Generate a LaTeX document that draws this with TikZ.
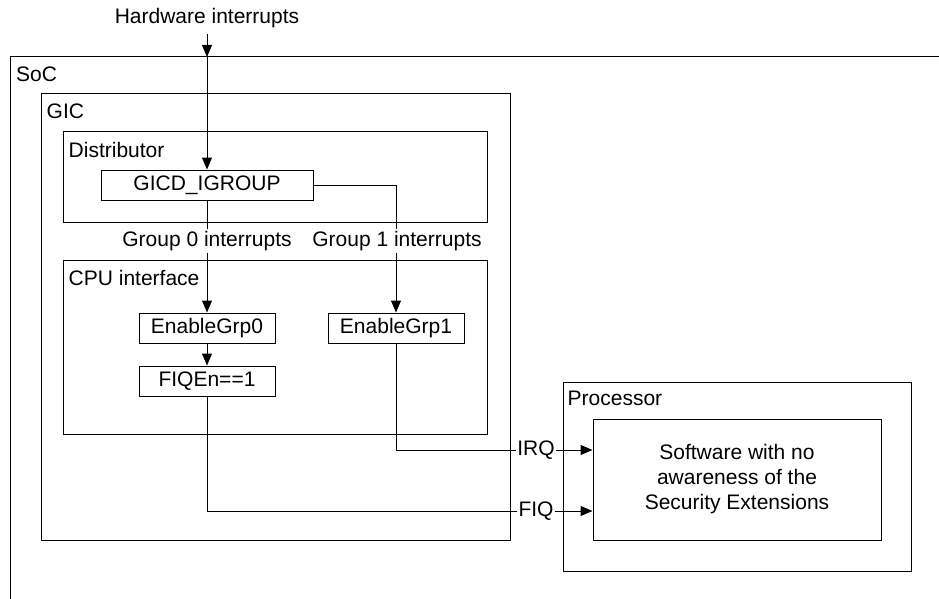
\documentclass[tikz,border=0pt]{standalone}
\usepackage{fontspec}
\setmainfont{Liberation Sans}
\usetikzlibrary{arrows.meta}
\begin{document}
\begin{tikzpicture}[x=1pt,y=-1pt,
  every node/.style={font=\fontsize{21}{25}\selectfont},
  line/.style={line width=1pt},
  tip/.style={line width=1pt,-{Triangle[length=12pt,width=10pt]}},
  box/.style={draw,line width=1pt,rectangle,inner sep=0pt,minimum height=30pt},
  container/.style={draw,line width=1pt,rectangle,inner sep=0pt},
  lbl/.style={anchor=west,inner sep=0pt},
  wlbl/.style={fill=white,inner sep=1pt}]
\useasboundingbox (0,0) rectangle (939,599);
% SoC (cropped)
\coordinate (socbl) at (10,599);
\coordinate (soctl) at (10,57);
\coordinate (soctr) at (939,57);
\draw[line] (socbl) -- (soctl) -- (soctr);
\node[lbl] (soclbl) at (16,74) {SoC};
% GIC
\node[container,minimum width=469pt,minimum height=446pt] (gic) at (275.5,317) {};
\node[lbl] (giclbl) at ([xshift=6pt,yshift=-18pt]gic.north west) {GIC};
% Distributor
\node[container,minimum width=424pt,minimum height=90pt] (dist) at (275,177) {};
\node[lbl] (distlbl) at ([xshift=6pt,yshift=-18pt]dist.north west) {Distributor};
% CPU interface
\node[container,minimum width=424pt,minimum height=174pt] (cpu) at (275,347) {};
\node[lbl] (cpulbl) at ([xshift=6pt,yshift=-18pt]cpu.north west) {CPU interface};
% Processor
\node[container,minimum width=348pt,minimum height=189pt] (proc) at (737,476.5) {};
\node[lbl] (proclbl) at ([xshift=5pt,yshift=-17pt]proc.north west) {Processor};
% Software
\node[container,minimum width=288pt,minimum height=121pt,align=center] (sw) at (737,479.5) {Software with no\\awareness of the\\Security Extensions};
% inner boxes
\node[box,minimum width=212pt] (gicd) at (207,185) {GICD\_IGROUP};
\node[box,minimum width=136pt] (g0) at (207,328) {EnableGrp0};
\node[box,minimum width=136pt] (g1) at (396,328) {EnableGrp1};
\node[box,minimum width=136pt] (fiqen) at (207,381) {FIQEn==1};
% hardware interrupts
\node (hw) at (207,18) {Hardware interrupts};
\coordinate (hwtop) at (207,34);
\coordinate (socin) at (207,57);
\draw[tip] (hwtop) -- (socin);
\draw[tip] (socin) -- (gicd.north);
% group paths
\draw[tip] (gicd.south) -- (g0.north);
\draw[tip] (gicd.east) -| (g1.north);
\draw[tip] (g0.south) -- (fiqen.north);
\node[fill=white,inner sep=2pt] (grp0) at (207,241) {Group 0 interrupts};
\node[fill=white,inner sep=2pt] (grp1) at (397,241) {Group 1 interrupts};
% IRQ / FIQ
\node[wlbl] (irq) at (536,450) {IRQ};
\node[wlbl] (fiq) at (536,511) {FIQ};
\draw[line] (g1.south) |- (irq.west);
\draw[tip] (irq.east) -- (irq.east -| sw.west);
\draw[line] (fiqen.south) |- (fiq.west);
\draw[tip] (fiq.east) -- (fiq.east -| sw.west);
\end{tikzpicture}
\end{document}
